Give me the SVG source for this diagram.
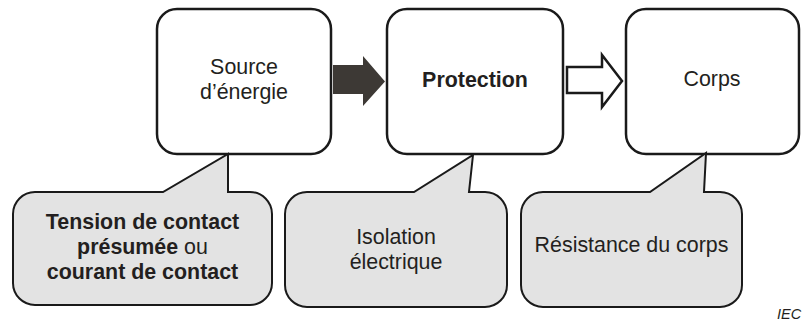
<svg xmlns="http://www.w3.org/2000/svg" width="805" height="322" viewBox="0 0 805 322">
<style>
.box{fill:#ffffff;stroke:#1a1a1a;stroke-width:2.5}
.call{fill:#e3e3e3;stroke:#1a1a1a;stroke-width:2;stroke-linejoin:miter}
text{font-family:"Liberation Sans",Arial,sans-serif;font-size:21.4px;fill:#231f20;text-anchor:middle}
.b{font-weight:bold}
.iec{font-size:14.5px;font-style:italic;text-anchor:start}
</style>
<rect width="805" height="322" fill="#ffffff"/>
<g id="source">
<rect class="box" x="157" y="9" width="174" height="145" rx="20" ry="20"/>
<text x="244" y="74">Source</text>
<text x="244" y="99">d’énergie</text>
</g>
<g id="protection">
<rect class="box" x="387" y="9" width="176" height="145" rx="20" ry="20"/>
<text class="b" x="475" y="87">Protection</text>
</g>
<g id="corps">
<rect class="box" x="626" y="9" width="173" height="145" rx="20" ry="20"/>
<text x="712" y="86">Corps</text>
</g>
<g id="connectors">
<path d="M333,65 L363,65 L363,56 L385,81.5 L363,106 L363,94 L333,94 Z" fill="#3d3935" stroke="none"/>
<path d="M567,67 L602,67 L602,55 L622,81 L602,107 L602,93 L567,93 Z" fill="#ffffff" stroke="#1a1a1a" stroke-width="2.5" stroke-linejoin="miter"/>
</g>
<g id="callout-tension">
<path class="call" d="M35,192 L163,192 L228,154 L228,192 L250,192 A22,22 0 0 1 272,214 L272,283 A22,22 0 0 1 250,305 L35,305 A22,22 0 0 1 13,283 L13,214 A22,22 0 0 1 35,192 Z"/>
<text class="b" x="142.5" y="229">Tension de contact</text>
<text x="142.5" y="254"><tspan class="b">présumée</tspan> ou</text>
<text class="b" x="142.5" y="279">courant de contact</text>
</g>
<g id="callout-isolation">
<path class="call" d="M307,192 L414,192 L473,155 L469,192 L485,192 A22,22 0 0 1 507,214 L507,285 A22,22 0 0 1 485,307 L307,307 A22,22 0 0 1 285,285 L285,214 A22,22 0 0 1 307,192 Z"/>
<text x="396" y="244">Isolation</text>
<text x="396" y="269">électrique</text>
</g>
<g id="callout-resistance">
<path class="call" d="M543,192 L650,192 L706,153 L704,192 L720,192 A22,22 0 0 1 742,214 L742,285 A22,22 0 0 1 720,307 L543,307 A22,22 0 0 1 521,285 L521,214 A22,22 0 0 1 543,192 Z"/>
<text x="631.5" y="252">Résistance du corps</text>
</g>
<text class="iec" x="777" y="319">IEC</text>
</svg>
